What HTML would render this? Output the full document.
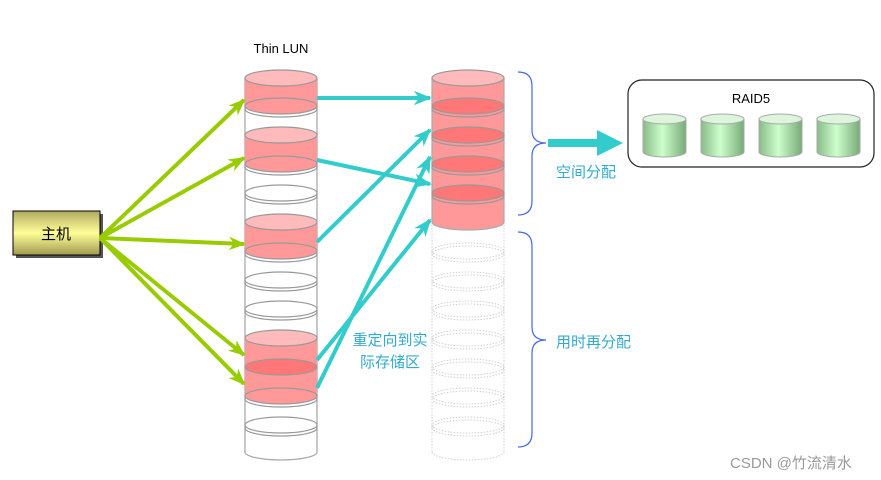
<!DOCTYPE html>
<html><head><meta charset="utf-8"><style>
html,body{margin:0;padding:0;background:#fff;}
svg{display:block;}
text{font-family:"Liberation Sans","Noto Sans CJK SC",sans-serif;}
</style></head><body>
<svg width="881" height="480" viewBox="0 0 881 480" xmlns="http://www.w3.org/2000/svg">
<defs>
<marker id="ag" viewBox="0 0 20 16" refX="18" refY="8" markerWidth="4.2" markerHeight="3.6" markerUnits="strokeWidth" orient="auto">
<path d="M0,0 L20,8 L0,16 L6,8 Z" fill="#99cc00"/></marker>
<marker id="at" viewBox="0 0 20 16" refX="18" refY="8" markerWidth="4.5" markerHeight="3.8" markerUnits="strokeWidth" orient="auto">
<path d="M0,0 L20,8 L0,16 L6,8 Z" fill="#33cccc"/></marker>
<linearGradient id="hy" x1="0" y1="0" x2="0" y2="1">
<stop offset="0" stop-color="#b0aa60"/><stop offset="0.5" stop-color="#ffff99"/><stop offset="1" stop-color="#a09a50"/></linearGradient>
<linearGradient id="gc" x1="0" y1="0" x2="1" y2="0">
<stop offset="0" stop-color="#88bb88"/><stop offset="0.45" stop-color="#ccffcc"/><stop offset="1" stop-color="#77aa77"/></linearGradient>
</defs>

<text x="281" y="53" font-size="13" text-anchor="middle" fill="#000">Thin LUN</text>

<g stroke="#aaa" stroke-width="1.3">
<line x1="245" y1="78" x2="245" y2="452"/><line x1="317" y1="78" x2="317" y2="452"/>
<path d="M245,452 A36,8 0 0 0 317,452" fill="none"/>
</g>
<g fill="#ff9999" stroke="none">
<path d="M245,78 H317 V106 A36,8 0 0 1 245,106 Z"/>
<path d="M245,135 H317 V164 A36,8 0 0 1 245,164 Z"/>
<path d="M245,222 H317 V251 A36,8 0 0 1 245,251 Z"/>
<path d="M245,338 H317 V396 A36,8 0 0 1 245,396 Z"/>
</g>
<g stroke="#999" stroke-width="1.2">
<ellipse cx="281" cy="78" rx="36" ry="8" fill="#ffbbbb"/>
<ellipse cx="281" cy="109" rx="36" ry="8" fill="none"/><ellipse cx="281" cy="106" rx="36" ry="8" fill="#ff9999"/>
<ellipse cx="281" cy="135" rx="36" ry="8" fill="#ffbbbb"/>
<ellipse cx="281" cy="167" rx="36" ry="8" fill="none"/><ellipse cx="281" cy="164" rx="36" ry="8" fill="#ff9999"/>
<ellipse cx="281" cy="196" rx="36" ry="8" fill="none"/><ellipse cx="281" cy="193" rx="36" ry="8" fill="#fff"/>
<ellipse cx="281" cy="222" rx="36" ry="8" fill="#ffbbbb"/>
<ellipse cx="281" cy="254" rx="36" ry="8" fill="none"/><ellipse cx="281" cy="251" rx="36" ry="8" fill="#ff9999"/>
<ellipse cx="281" cy="283" rx="36" ry="8" fill="none"/><ellipse cx="281" cy="280" rx="36" ry="8" fill="#fff"/>
<ellipse cx="281" cy="312" rx="36" ry="8" fill="none"/><ellipse cx="281" cy="309" rx="36" ry="8" fill="#fff"/>
<ellipse cx="281" cy="338" rx="36" ry="8" fill="#ffbbbb"/>
<ellipse cx="281" cy="367" rx="36" ry="8" fill="#ff7777"/>
<ellipse cx="281" cy="399" rx="36" ry="8" fill="none"/><ellipse cx="281" cy="396" rx="36" ry="8" fill="#ff9999"/>
<ellipse cx="281" cy="428" rx="36" ry="8" fill="none"/><ellipse cx="281" cy="425" rx="36" ry="8" fill="#fff"/>
</g>

<g stroke="#d0d0d0" stroke-width="1" stroke-dasharray="1.5,1.5" fill="none">
<line x1="432" y1="222" x2="432" y2="452"/><line x1="504" y1="222" x2="504" y2="452"/>
<path d="M432,452 A36,8 0 0 0 504,452"/>
<ellipse cx="468" cy="251" rx="36" ry="8"/><ellipse cx="468" cy="254" rx="36" ry="8"/>
<ellipse cx="468" cy="280" rx="36" ry="8"/><ellipse cx="468" cy="283" rx="36" ry="8"/>
<ellipse cx="468" cy="309" rx="36" ry="8"/><ellipse cx="468" cy="312" rx="36" ry="8"/>
<ellipse cx="468" cy="338" rx="36" ry="8"/><ellipse cx="468" cy="341" rx="36" ry="8"/>
<ellipse cx="468" cy="367" rx="36" ry="8"/><ellipse cx="468" cy="370" rx="36" ry="8"/>
<ellipse cx="468" cy="396" rx="36" ry="8"/><ellipse cx="468" cy="399" rx="36" ry="8"/>
<ellipse cx="468" cy="425" rx="36" ry="8"/><ellipse cx="468" cy="428" rx="36" ry="8"/>
</g>
<path d="M432,78 H504 V222 A36,8 0 0 1 432,222 Z" fill="#ff9999" stroke="#aaa" stroke-width="1.2"/>
<g stroke="#999" stroke-width="1.2">
<ellipse cx="468" cy="78" rx="36" ry="8" fill="#ffbbbb"/>
<ellipse cx="468" cy="109" rx="36" ry="8" fill="none"/><ellipse cx="468" cy="106" rx="36" ry="8" fill="#ff7777"/>
<ellipse cx="468" cy="138" rx="36" ry="8" fill="none"/><ellipse cx="468" cy="135" rx="36" ry="8" fill="#ff7777"/>
<ellipse cx="468" cy="167" rx="36" ry="8" fill="none"/><ellipse cx="468" cy="164" rx="36" ry="8" fill="#ff7777"/>
<ellipse cx="468" cy="196" rx="36" ry="8" fill="none"/><ellipse cx="468" cy="193" rx="36" ry="8" fill="#ff7777"/>
</g>

<rect x="16" y="214" width="87" height="44" fill="#555"/>
<rect x="13" y="211" width="87" height="44" fill="url(#hy)" stroke="#000" stroke-width="1"/>
<text x="56" y="239" font-size="15" text-anchor="middle" fill="#000">主机</text>

<g stroke="#99cc00" stroke-width="4" fill="none" marker-end="url(#ag)">
<line x1="100" y1="238" x2="244" y2="100"/>
<line x1="100" y1="238" x2="244" y2="158"/>
<line x1="100" y1="238" x2="244" y2="244"/>
<line x1="100" y1="238" x2="244" y2="355"/>
<line x1="100" y1="238" x2="244" y2="384"/>
</g>

<g stroke="#33cccc" stroke-width="4" fill="none" marker-end="url(#at)">
<line x1="317" y1="98" x2="430" y2="98"/>
<line x1="317" y1="160" x2="430" y2="184"/>
<line x1="317" y1="242" x2="430" y2="130"/>
<line x1="317" y1="388" x2="430" y2="157"/>
<line x1="317" y1="360" x2="430" y2="220"/>
</g>

<text x="390" y="345" font-size="15" text-anchor="middle" fill="#33aacc">重定向到实</text>
<text x="390" y="367" font-size="15" text-anchor="middle" fill="#33aacc">际存储区</text>

<g stroke="#4466ee" stroke-width="1.2" fill="none">
<path d="M518,72 Q532,72 532,86 V130 Q532,143 546,143 Q532,143 532,156 V201 Q532,215 518,215"/>
<path d="M518,232 Q532,232 532,246 V327 Q532,340 546,340 Q532,340 532,353 V433 Q532,447 518,447"/>
</g>

<path d="M548,139 H597 V130 L623,143 L597,156 V147 H548 Z" fill="#33cccc"/>
<text x="556" y="177" font-size="15" fill="#33aacc">空间分配</text>
<text x="556" y="347" font-size="15" fill="#33aacc">用时再分配</text>

<rect x="628" y="80" width="246" height="87" rx="14" fill="#fff" stroke="#222" stroke-width="1.2"/>
<text x="751" y="103" font-size="13" text-anchor="middle" fill="#000">RAID5</text>
<g stroke="#aaa" stroke-width="1">
<path d="M643,119 V152 A21.5,5 0 0 0 686,152 V119 Z" fill="url(#gc)"/><ellipse cx="664.5" cy="119" rx="21.5" ry="5" fill="#ddf5dd"/>
<path d="M701,119 V152 A21.5,5 0 0 0 744,152 V119 Z" fill="url(#gc)"/><ellipse cx="722.5" cy="119" rx="21.5" ry="5" fill="#ddf5dd"/>
<path d="M759,119 V152 A21.5,5 0 0 0 802,152 V119 Z" fill="url(#gc)"/><ellipse cx="780.5" cy="119" rx="21.5" ry="5" fill="#ddf5dd"/>
<path d="M817,119 V152 A21.5,5 0 0 0 860,152 V119 Z" fill="url(#gc)"/><ellipse cx="838.5" cy="119" rx="21.5" ry="5" fill="#ddf5dd"/>
</g>

<text x="730" y="468" font-size="15" fill="#999">CSDN @竹流清水</text>
</svg>
</body></html>
